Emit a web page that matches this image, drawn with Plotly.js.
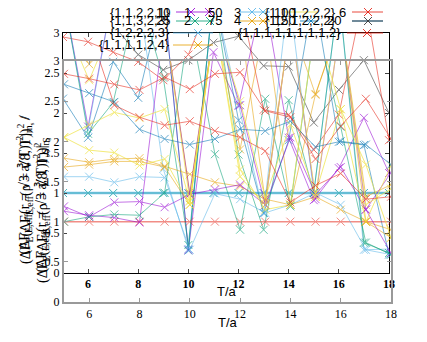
<!DOCTYPE html>
<html><head><meta charset="utf-8">
<script src="https://cdn.plot.ly/plotly-3.0.1.min.js"></script>
<style>html,body{margin:0;padding:0;background:#fff}#chart{width:427px;height:342px}</style>
</head><body><div id="chart"></div>
<script>
// ---- data ----
const tVals = [5,6,7,8,9,10,11,12,13,14,15,16,17,18];
const xTicks = [6,8,10,12,14,16,18];
const yTicks = [0,0.5,1,1.5,2,2.5,3];

// inner plot (upper frame)
const bConst1   = [1,1,1,1,1,1,1,1,1,1,1,1,1,1];
const bGray     = [3.5,3.5,3.1,2.73,2.54,2.66,2.88,2.96,2.59,2.58,1.88,2.29,2.66,2.0];
const bRed      = [2.95,2.89,2.76,2.64,2.41,2.73,3.5,3.5,2.04,1.98,1.54,1.98,3.5,1.66];
const bPurple   = [3.5,1.83,3.5,3.5,3.5,0.29,2.76,2.09,3.5,1.69,0.91,1.31,1.94,1.25];
const bLight    = [3.5,1.79,3.5,3.5,1.3,0.3,3.5,2.1,0.75,3.5,1.0,3.5,0.29,0.3];
const bBlue     = [2.18,1.69,2.64,2.19,3.5,0.28,3.5,1.91,0.75,1.66,3.5,1.64,1.6,0.23];
const bGreen    = [3.5,1.74,2.13,3.5,2.44,0.35,3.5,1.48,0.54,2.16,1.0,3.5,0.38,0.25];

// outer plot (lower frame)
const aConst1   = [1,1,1,1,1,1,1,1,1,1,1,1,1,1];
const aLight    = [1.56,1.56,1.49,1.56,1.55,0.65,1.35,1.28,1.11,1.21,1.36,1.21,0.65,0.59];
const aOrange1  = [1.79,1.74,1.78,1.79,1.69,1.59,1.49,1.44,1.28,1.21,1.31,1.15,1.0,0.8];
const aOrange2  = [1.68,1.71,1.75,1.75,1.68,1.21,3.5,1.9,3.5,1.21,2.59,3.5,1.0,0.9];
const aOrange3  = [3.5,2.96,3.5,3.5,3.5,1.36,3.5,3.5,1.26,3.5,2.58,3.5,1.31,1.46];
const aPurple1  = [1.19,1.06,1.24,1.25,1.18,1.34,1.4,1.46,1.21,2.05,1.34,1.68,1.15,0.61];
const aPurple2  = [1.13,1.08,1.05,0.99,3.5,1.34,3.5,2.45,1.21,3.5,1.28,3.5,1.15,1.61];
const aGreen    = [1.0,1.06,1.09,1.08,1.36,3.5,1.84,0.9,2.53,1.19,3.5,2.18,0.74,0.59];
const aYellow1  = [2.05,1.89,1.86,1.7,1.78,1.21,3.5,1.65,1.15,1.21,3.5,2.4,1.71,0.8];
const aYellow2  = [2.05,2.21,2.36,2.29,2.4,1.25,3.5,2.5,1.3,2.21,1.35,2.4,1.0,1.7];
const aYellow3  = [3.5,2.76,3.5,3.5,3.5,1.26,3.5,1.56,1.21,3.5,1.31,3.5,1.21,1.41];
const aBlue     = [2.71,2.6,2.49,2.15,2.03,1.96,2.03,2.15,2.13,2.25,1.93,2.0,1.96,1.71];
const aRed2     = [2.84,2.78,2.71,2.64,2.8,2.65,2.84,2.86,2.38,2.3,1.78,2.19,2.53,2.03];
const aRed3     = [3.5,3.4,2.45,2.3,2.2,2.25,2.13,2.05,1.88,1.24,1.45,1.6,1.28,1.31];

const C = {purple:'#9400d3', green:'#009e73', light:'#56b4e9', orange:'#e69f00',
           yellow:'#f0e442', blue:'#0072b2', red:'#e51e10', black:'#333333'};

function tr(y, color, outer, w, op){
  return {x:tVals, y:y, type:'scatter', mode:'lines+markers',
    xaxis: outer?'x2':'x', yaxis: outer?'y2':'y',
    line:{color:color, width:w||0.9}, opacity: op||0.6,
    marker:{symbol:'x-thin', size:8, line:{color:color, width:1}},
    showlegend:false, hoverinfo:'skip'};
}

const data = [
  tr(aConst1, C.red, true, 1.5, 0.5),
  tr(aLight, C.light, true), tr(aOrange1, C.orange, true), tr(aOrange2, C.orange, true), tr(aOrange3, C.orange, true),
  tr(aPurple1, C.purple, true), tr(aPurple2, C.purple, true), tr(aGreen, C.green, true),
  tr(aYellow1, C.yellow, true, 1, 0.7), tr(aYellow2, C.yellow, true, 1, 0.7), tr(aYellow3, C.yellow, true, 1, 0.7),
  tr(aBlue, C.blue, true), tr(aRed2, C.red, true), tr(aRed3, C.red, true),
  tr(bConst1, C.light, false, 2.5, 0.75), tr(bConst1, C.green, false, 1, 0.4),
  tr(bGray, C.black, false), tr(bRed, C.red, false), tr(bPurple, C.purple, false),
  tr(bLight, C.light, false), tr(bBlue, C.blue, false), tr(bGreen, C.green, false)
];

// ---- layout helpers (pixel -> paper) ----
const W=427, H=342;
const px = v => v/W, py = v => 1 - v/H;
const serif = 'Liberation Serif, Times New Roman, serif';
const sans = 'Liberation Sans, Arial, sans-serif';

const axB = {range:[5,18], tickvals:xTicks, ticks:'inside', ticklen:4, showline:true, linecolor:'#000', linewidth:1,
  mirror:'ticks', showgrid:false, zeroline:false, tickfont:{family:serif, size:12, color:'#000', weight:'bold'}};
const ayB = {range:[0,3], tickvals:yTicks, ticks:'inside', ticklen:4, showline:true, linecolor:'#000', linewidth:1,
  mirror:'ticks', showgrid:false, zeroline:false, tickfont:{family:serif, size:12, color:'#000'}};

const layout = {
  width:W, height:H, margin:{l:0,r:0,t:0,b:0}, paper_bgcolor:'#fff', plot_bgcolor:'rgba(0,0,0,0)',
  xaxis: Object.assign({}, axB, {domain:[px(63), px(389)], anchor:'y'}),
  yaxis: Object.assign({}, ayB, {domain:[py(273), py(33)], anchor:'x'}),
  xaxis2: Object.assign({}, axB, {domain:[px(64), px(391)], anchor:'y2', linecolor:'#999', linewidth:2,
    tickcolor:'#999', tickfont:{family:serif, size:12, color:'#000'}}),
  yaxis2: Object.assign({}, ayB, {domain:[py(302), py(61)], anchor:'x2', linecolor:'#999', linewidth:2, tickcolor:'#999'}),
  shapes: [], annotations: []
};

// axis titles
layout.annotations.push({text:'T/a', x:px(227), y:py(301), xref:'paper', yref:'paper', showarrow:false,
  font:{family:sans, size:13, color:'#000'}});
layout.annotations.push({text:'T/a', x:px(228), y:py(332), xref:'paper', yref:'paper', showarrow:false,
  font:{family:sans, size:13, color:'#000'}});
const yTitles = [
  {t:'(ΔF<sub>E,eff</sub>(r = √3 a, T))<sup>2</sup>|<sub>m<sub>s</sub></sub> /', x:12, y:185},
  {t:'(ΔF<sub>E</sub>(ΔF<sub>E,eff</sub>(ρ = ∛8, T))<sup>2</sup> /', x:13, y:190},
  {t:'(ΔF<sub>E,eff</sub>(r = √3 a, T))<sup>2</sup><sub>S</sub>|<sub>n<sub>s</sub></sub>', x:29, y:205},
  {t:'(ΔF<sub>E</sub>(ΔF<sub>E,eff</sub>(ρ = ∛8, T))<sup>2</sup><sub>S</sub>', x:30, y:210}
];
yTitles.forEach(o => layout.annotations.push({text:o.t, x:px(o.x), y:py(o.y), xref:'paper', yref:'paper',
  showarrow:false, textangle:-90, font:{family:serif, size:14, color:'#000'}}));

// legend (gnuplot style keys: label then sample)
const legText = [
  ['{1,1,2,2,1}',172,12,'right'], ['10',172,12,'right'], ['1',187,12,'center'], ['50',224,12,'right'],
  ['3',238,12,'center'], ['100',272,12,'left'], ['{1,1,1,2,2,2}',338,12,'right'], ['6',348,12,'right'],
  ['{1,1,3,2,3}',172,21,'right'], ['25',172,21,'right'], ['2',187,21,'center'], ['75',224,21,'right'],
  ['4',238,21,'center'], ['150',272,21,'left'], ['{1,2,1,2,2,2}',338,21,'right'], ['20',343,21,'right'],
  ['{1,2,2,2,3}',172,33,'right'], ['{1,1,1,1,1,1,1,1,2}',343,33,'right'],
  ['{1,1,1,1,2,4}',172,45,'right']
];
legText.forEach(l => layout.annotations.push({text:l[0], x:px(l[1]), y:py(l[2]), xref:'paper', yref:'paper',
  xanchor:l[3], yanchor:'middle', showarrow:false, font:{family:sans, size:13, color:'#000'}}));

const legSamples = [
  [C.purple,176,214,12,[191,209]], [C.light,240,270,12,[252,263]], [C.yellow,285,318,12,[]], [C.red,352,383,12,[368]],
  [C.green,176,214,21,[195,210]], [C.orange,240,270,21,[252,263]], [C.blue,300,318,21,[311]], [C.blue,352,383,21,[]],
  [C.black,352,383,21,[368]],
  [C.light,173,213,33,[198]], [C.red,347,383,33,[367]],
  [C.orange,173,213,45,[198]]
];
legSamples.forEach(s => {
  layout.shapes.push({type:'line', xref:'paper', yref:'paper', x0:px(s[1]), x1:px(s[2]), y0:py(s[3]), y1:py(s[3]),
    line:{color:s[0], width:1}, opacity:0.8});
  s[4].forEach(cx => {
    const d=4;
    layout.shapes.push({type:'path', xref:'paper', yref:'paper',
      path:`M ${px(cx-d)} ${py(s[3]-d)} L ${px(cx+d)} ${py(s[3]+d)} M ${px(cx-d)} ${py(s[3]+d)} L ${px(cx+d)} ${py(s[3]-d)}`,
      line:{color:s[0], width:1}, opacity:0.85});
  });
});

Plotly.newPlot('chart', data, layout, {staticPlot:true, displayModeBar:false});
</script></body></html>
